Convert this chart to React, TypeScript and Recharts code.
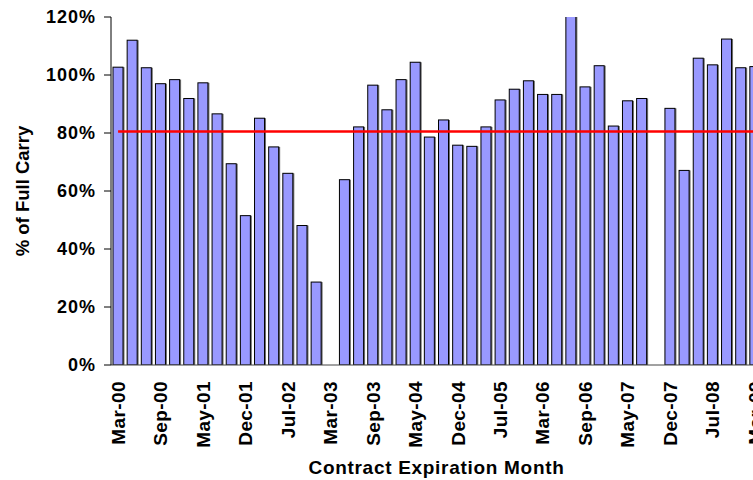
import React from "react";
import {
  BarChart,
  Bar,
  XAxis,
  YAxis,
  ReferenceLine,
  Label,
} from "recharts";

// contract months (Mar, May, Jul, Sep, Dec)
const MONTHS = [
  "Mar-00", "May-00", "Jul-00", "Sep-00", "Dec-00",
  "Mar-01", "May-01", "Jul-01", "Sep-01", "Dec-01",
  "Mar-02", "May-02", "Jul-02", "Sep-02", "Dec-02",
  "Mar-03", "May-03", "Jul-03", "Sep-03", "Dec-03",
  "Mar-04", "May-04", "Jul-04", "Sep-04", "Dec-04",
  "Mar-05", "May-05", "Jul-05", "Sep-05", "Dec-05",
  "Mar-06", "May-06", "Jul-06", "Sep-06", "Dec-06",
  "Mar-07", "May-07", "Jul-07", "Sep-07", "Dec-07",
  "Mar-08", "May-08", "Jul-08", "Sep-08", "Dec-08",
  "Mar-09",
];

// % of full carry per contract (null = no value)
const FULL_CARRY = [
  102.7, 112.0, 102.5, 97.0, 98.4,
  91.9, 97.3, 86.6, 69.4, 51.5,
  85.1, 75.2, 66.1, 48.1, 28.6,
  null, 63.9, 82.1, 96.5, 88.0,
  98.4, 104.4, 78.6, 84.5, 75.8,
  75.4, 82.1, 91.4, 95.1, 98.0,
  93.3, 93.3, 125.0, 95.9, 103.2,
  82.4, 91.1, 91.9, null, 88.5,
  67.1, 105.8, 103.5, 112.4, 102.5,
  102.9,
];

const AVERAGE = 80.5;
const Y_TICKS = [0, 20, 40, 60, 80, 100, 120];

const FONT = "'Liberation Sans', Arial, sans-serif";

const data = MONTHS.map((m, i) => ({ month: m, carry: FULL_CARRY[i] }));

// bar with the little grey drop shadow on the right
const ShadowBar = (props: any) => {
  const { x, y, width, height } = props;
  if (!height || height <= 0) return null;
  return (
    <g>
      <rect x={x + 1.5} y={y} width={width} height={height} fill="#707070" />
      <rect
        x={x}
        y={y}
        width={width}
        height={height}
        fill="#9999FF"
        stroke="#000"
        strokeWidth={1}
      />
    </g>
  );
};

const MonthTick = ({ x, y, payload }: any) => (
  <text
    x={x}
    y={y}
    transform={`rotate(-90 ${x} ${y})`}
    textAnchor="end"
    dy="0.36em"
    fontFamily={FONT}
    fontWeight="bold"
    fontSize={19}
    letterSpacing={0.4}
    fill="#000"
  >
    {payload.value}
  </text>
);

export default function App() {
  return (
    <div
      style={{
        position: "fixed",
        left: 0,
        top: 0,
        width: 753,
        height: 480,
        overflow: "hidden",
        background: "#fff",
      }}
    >
      <BarChart
        width={800}
        height={480}
        data={data}
        margin={{ top: 17, right: 38, left: 0, bottom: 0 }}
        barSize={10}
      >
        <XAxis
          dataKey="month"
          interval={2}
          height={115}
          tickLine={false}
          tickSize={0}
          tickMargin={16}
          stroke="#444"
          tick={<MonthTick />}
        >
          <Label
            value="Contract Expiration Month"
            position="insideBottom"
            offset={6}
            style={{
              fontFamily: FONT,
              fontWeight: "bold",
              fontSize: 19,
              letterSpacing: 0.7,
              fill: "#000",
            }}
          />
        </XAxis>
        <YAxis
          domain={[0, 120]}
          ticks={Y_TICKS}
          allowDataOverflow
          width={111}
          stroke="#000"
          tickSize={7}
          tickMargin={8}
          tickFormatter={(v) => `${v}%`}
          tick={{
            fontFamily: FONT,
            fontWeight: "bold",
            fontSize: 18,
            fill: "#000",
            letterSpacing: 1,
          }}
        >
          <Label
            content={({ viewBox }: any) => {
              const cx = 22;
              const cy = viewBox.y + viewBox.height / 2;
              return (
                <text
                  x={cx}
                  y={cy}
                  transform={`rotate(-90 ${cx} ${cy})`}
                  textAnchor="middle"
                  dy="0.36em"
                  fontFamily={FONT}
                  fontWeight="bold"
                  fontSize={18.5}
                  fill="#000"
                >
                  % of Full Carry
                </text>
              );
            }}
          />
        </YAxis>
        <Bar
          dataKey="carry"
          shape={<ShadowBar />}
          isAnimationActive={false}
        />
        <ReferenceLine
          segment={[
            { x: MONTHS[0], y: AVERAGE },
            { x: MONTHS[MONTHS.length - 1], y: AVERAGE },
          ]}
          stroke="#FF0000"
          strokeWidth={2.5}
          ifOverflow="visible"
        />
      </BarChart>
    </div>
  );
}
